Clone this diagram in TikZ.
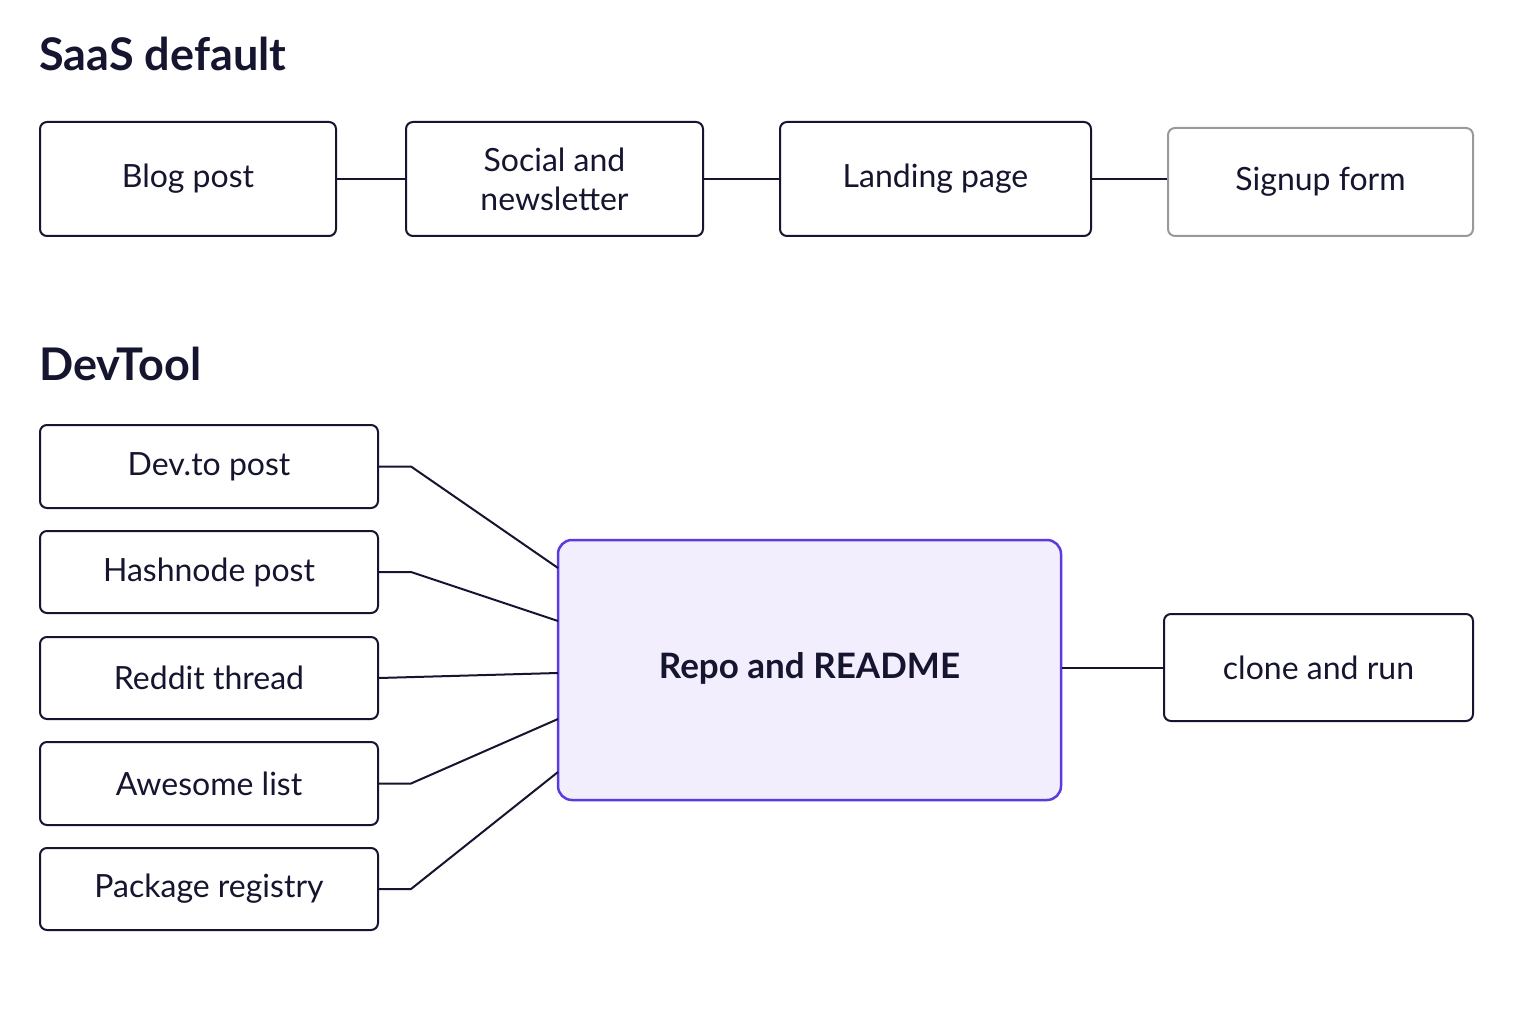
\documentclass[tikz,border=0pt]{standalone}
\usepackage{fontspec}
\setmainfont{Lato}
\definecolor{ink}{HTML}{151530}
\definecolor{pur}{HTML}{5B3BE0}
\definecolor{lav}{HTML}{F3EEFD}
\begin{document}
\begin{tikzpicture}[x=1pt,y=-1pt,
  box/.style={draw=ink,line width=2pt,rounded corners=7pt,inner sep=0pt,align=center,text=ink,font=\fontsize{32}{39}\selectfont},
  ttl/.style={anchor=west,font=\bfseries\fontsize{45}{50}\selectfont,text=ink},
  ln/.style={draw=ink,line width=2pt}]
\useasboundingbox[fill=white] (0,0) rectangle (1536,1024);
\node[ttl] (t1) at (36,54) {SaaS default};
\node[ttl] (t2) at (36,364) {DevTool};
\node[box,minimum width=296pt,minimum height=114pt] (blog) at (188,179) {Blog post};
\node[box,minimum width=297pt,minimum height=114pt] (soc) at (554.5,179) {Social and\\newsletter};
\node[box,minimum width=311pt,minimum height=114pt] (land) at (935.5,179) {Landing page};
\node[box,draw=gray!80,minimum width=305pt,minimum height=108pt] (sign) at (1320.5,182) {Signup form};
\draw[ln] (blog.east) -- (soc.west);
\draw[ln] (soc.east) -- (land.west);
\draw[ln] (land.east) -- (sign.west |- land.east);
\node[box,minimum width=338pt,minimum height=83pt] (d1) at (209,466.5) {Dev.to post};
\node[box,minimum width=338pt,minimum height=82pt] (d2) at (209,572) {Hashnode post};
\node[box,minimum width=338pt,minimum height=82pt] (d3) at (209,678) {Reddit thread};
\node[box,minimum width=338pt,minimum height=83pt] (d4) at (209,783.5) {Awesome list};
\node[box,minimum width=338pt,minimum height=82pt] (d5) at (209,889) {Package registry};
\node[box,draw=pur,line width=2.5pt,fill=lav,rounded corners=14pt,minimum width=503pt,minimum height=260pt,font=\bfseries\fontsize{35}{40}\selectfont] (repo) at (809.5,670) {Repo and README\\[-30pt]\mbox{}};
\node[box,minimum width=309pt,minimum height=107pt] (clone) at (1318.5,667.5) {clone and run};
\coordinate (r1) at (558,568);
\coordinate (r2) at (558,621);
\coordinate (r3) at (558,673);
\coordinate (r4) at (558,719);
\coordinate (r5) at (558,772);
\draw[ln] (d1.east) -- ++(32,0) -- (r1);
\draw[ln] (d2.east) -- ++(32,0) -- (r2);
\draw[ln] (d3.east) -- (r3);
\draw[ln] (d4.east) -- ++(32,0) -- (r4);
\draw[ln] (d5.east) -- ++(32,0) -- (r5);
\draw[ln] (repo.east |- clone.west) -- (clone.west);
\end{tikzpicture}
\end{document}
